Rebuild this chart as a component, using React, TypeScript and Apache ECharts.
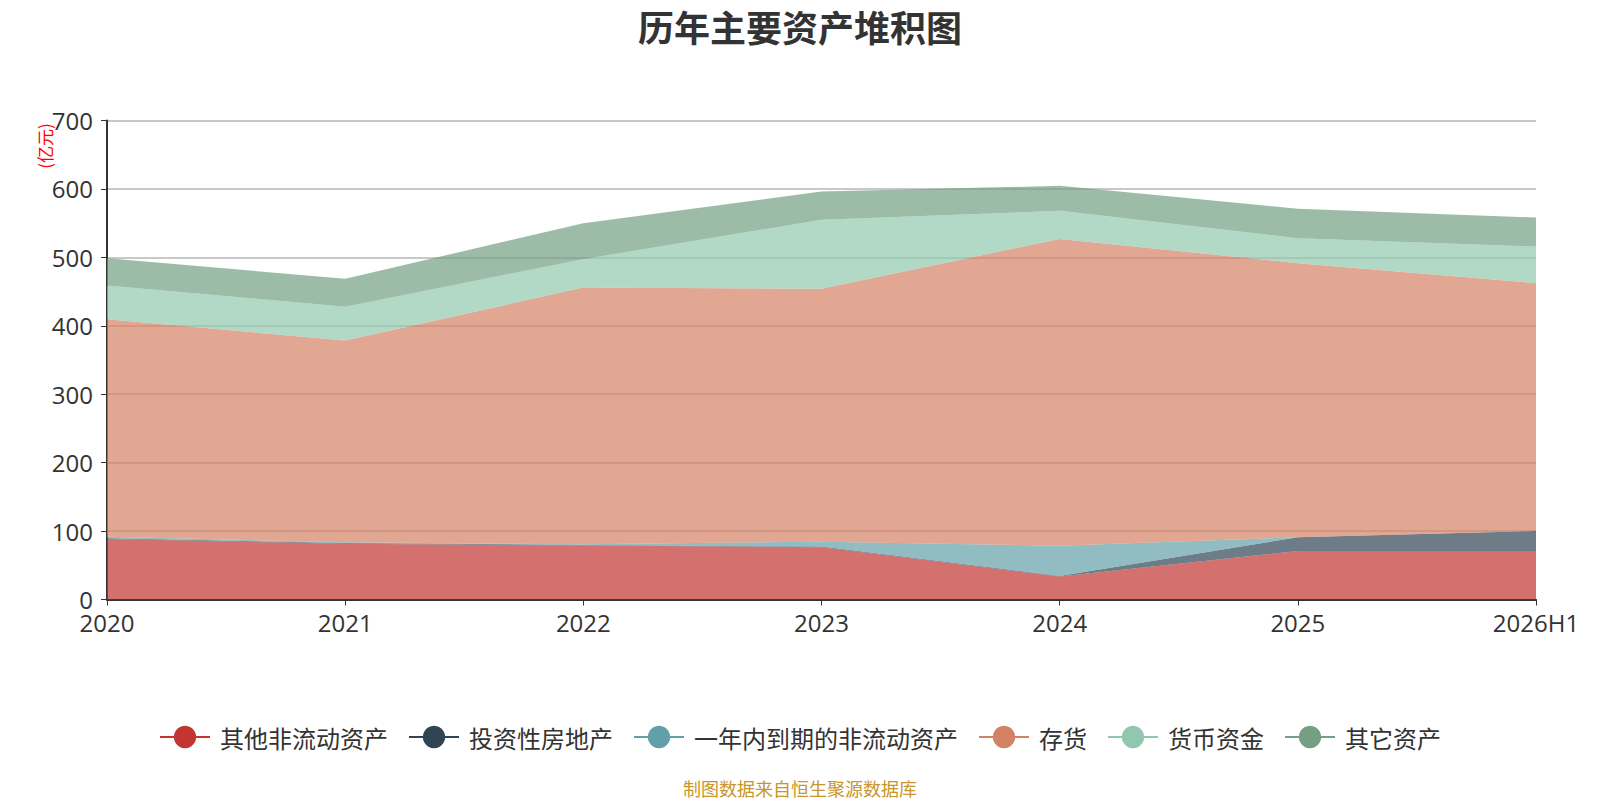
import React, { useEffect, useRef } from "react";
import * as echarts from "echarts";

const categories = ["2020", "2021", "2022", "2023", "2024", "2025", "2026H1"];
const seriesNames = ["其他非流动资产", "投资性房地产", "一年内到期的非流动资产", "存货", "货币资金", "其它资产"];
const otherNonCurrent = [88.5, 81.5, 79, 76.5, 33.5, 71, 71];
const investProperty = [1, 1, 0.8, 0.8, 1, 20, 29];
const dueWithinYear = [2.3, 1.1, 0.9, 7.2, 44.2, 0, 0];
const inventory = [317.8, 294.8, 375.1, 369.5, 448.3, 400.5, 362.3];
const cash = [49.2, 49.6, 41.6, 100.8, 41, 36.5, 53.5];
const otherAssets = [40, 40.6, 52.6, 41.4, 36.5, 43, 42.4];
const colors = ["#c23531", "#2f4554", "#61a0a8", "#d48265", "#91c7ae", "#749f83"];

export default function App() {
  const ref = useRef<HTMLDivElement>(null);
  useEffect(() => {
    document.body.style.margin = "0";
    const chart = echarts.init(ref.current!, null, { renderer: "svg" });
    const dataSets = [otherNonCurrent, investProperty, dueWithinYear, inventory, cash, otherAssets];
    const font = "'Noto Sans CJK SC', 'Noto Sans', sans-serif";
    const numFont = "'Open Sans', 'Noto Sans', sans-serif";
    chart.setOption({
      animation: false,
      color: colors,
      textStyle: { fontFamily: font },
      title: {
        text: "历年主要资产堆积图",
        left: "center",
        top: 3,
        textStyle: { fontSize: 36, fontWeight: "bold", color: "#333", fontFamily: font },
      },
      grid: { left: 107, right: 64, top: 120.5, bottom: 200.5, containLabel: false },
      legend: {
        data: seriesNames,
        left: "center",
        top: 720,
        itemWidth: 50,
        itemHeight: 28,
        itemGap: 20,
        lineStyle: { width: 2 },
        textStyle: { fontSize: 24, color: "#333", padding: [0, 0, 0, 5], fontFamily: font },
      },
      xAxis: {
        type: "category",
        data: categories,
        boundaryGap: false,
        axisLine: { lineStyle: { color: "#333", width: 2 } },
        axisTick: { show: true, length: 6, lineStyle: { color: "#333" } },
        axisLabel: { fontSize: 24, color: "#333", margin: 11, fontFamily: numFont },
      },
      yAxis: {
        type: "value",
        min: 0,
        max: 700,
        interval: 100,
        axisLine: { show: true, lineStyle: { color: "#333", width: 2 } },
        axisTick: { show: true, length: 6, lineStyle: { color: "#333" } },
        axisLabel: { fontSize: 24, color: "#333", margin: 14, fontFamily: numFont },
        splitLine: { show: true, lineStyle: { color: "#c8c8c8", width: 2 } },
      },
      graphic: [
        {
          type: "text",
          x: 44.5,
          y: 146,
          rotation: Math.PI / 2,
          style: {
            text: "(亿元)",
            fontSize: 17,
            fill: "#ff0000",
            align: "center",
            verticalAlign: "middle",
            fontFamily: font,
          },
        },
        {
          type: "text",
          x: 800,
          y: 788,
          style: {
            text: "制图数据来自恒生聚源数据库",
            fontSize: 18,
            fill: "#c8962a",
            align: "center",
            verticalAlign: "middle",
            fontFamily: font,
          },
        },
      ],
      series: seriesNames.map((name, i) => ({
        name,
        type: "line",
        stack: "total",
        symbol: "none",
        data: dataSets[i],
        lineStyle: { width: 0 },
        areaStyle: { opacity: 0.7 },
      })),
    });
    return () => chart.dispose();
  }, []);
  return <div ref={ref} style={{ width: 1600, height: 800 }} />;
}
